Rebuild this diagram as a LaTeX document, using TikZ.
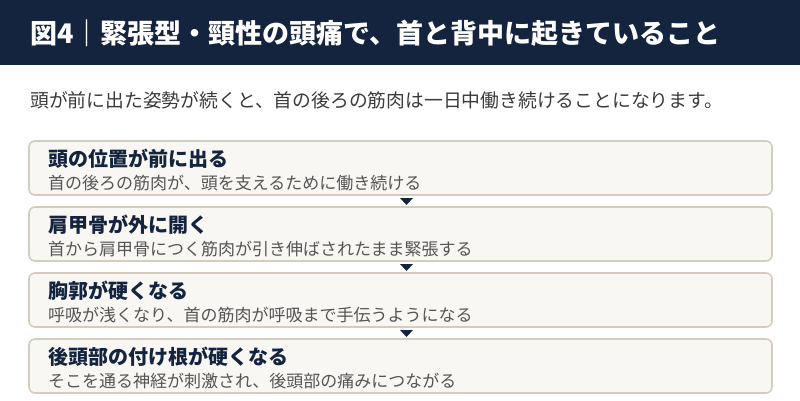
\documentclass[tikz,border=0pt]{standalone}
\usepackage{fontspec}
\setmainfont{Noto Sans CJK JP}
\definecolor{navy}{HTML}{14243E}
\definecolor{boxline}{HTML}{D6CCBE}
\definecolor{boxfill}{HTML}{F9F7F4}
\definecolor{leadgray}{HTML}{3A3A3A}
\definecolor{subgray}{HTML}{555555}

\tikzset{
  titletext/.style={anchor=west, inner sep=0pt, text=white,
    font=\fontsize{27}{31}\selectfont\bfseries},
  leadtext/.style={anchor=west, inner sep=0pt, text=leadgray,
    font=\fontsize{18.8}{22}\selectfont},
  stepbox/.style={draw=boxline, line width=1.6pt, fill=boxfill,
    rounded corners=6pt, minimum width=743pt, minimum height=54pt, inner sep=0pt},
  headtext/.style={anchor=west, inner sep=0pt, text=navy,
    font=\fontsize{20}{24}\selectfont\bfseries},
  subtext/.style={anchor=west, inner sep=0pt, text=subgray,
    font=\fontsize{17}{20}\selectfont},
}

\begin{document}
\begin{tikzpicture}[x=1pt, y=-1pt]
    \useasboundingbox (0,0) rectangle (800,400);
    \fill [navy] (0,0) rectangle (800,65);
    \node [titletext] (title) at (30,33) {図4｜緊張型・頸性の頭痛で、首と背中に起きていること};

    \node [leadtext] (lead) at (30,100) {頭が前に出た姿勢が続くと、首の後ろの筋肉は一日中働き続けることになります。};

    \node [stepbox] (box1) at (400.5,168) {};
    \node [headtext] (head1) at (48,159) {頭の位置が前に出る};
    \node [subtext] (sub1) at (48,183) {首の後ろの筋肉が、頭を支えるために働き続ける};

    \node [stepbox] (box2) at (400.5,234) {};
    \node [headtext] (head2) at (48,225) {肩甲骨が外に開く};
    \node [subtext] (sub2) at (48,249) {首から肩甲骨につく筋肉が引き伸ばされたまま緊張する};

    \node [stepbox] (box3) at (400.5,300) {};
    \node [headtext] (head3) at (48,291) {胸郭が硬くなる};
    \node [subtext] (sub3) at (48,315) {呼吸が浅くなり、首の筋肉が呼吸まで手伝うようになる};

    \node [stepbox] (box4) at (400.5,366) {};
    \node [headtext] (head4) at (48,357) {後頭部の付け根が硬くなる};
    \node [subtext] (sub4) at (48,381) {そこを通る神経が刺激され、後頭部の痛みにつながる};

    % down markers between the steps
    \foreach \y in {198,264,330}
        \fill [navy] (400,\y) -- (413,\y) -- (406.5,\y+7) -- cycle;
\end{tikzpicture}
\end{document}
